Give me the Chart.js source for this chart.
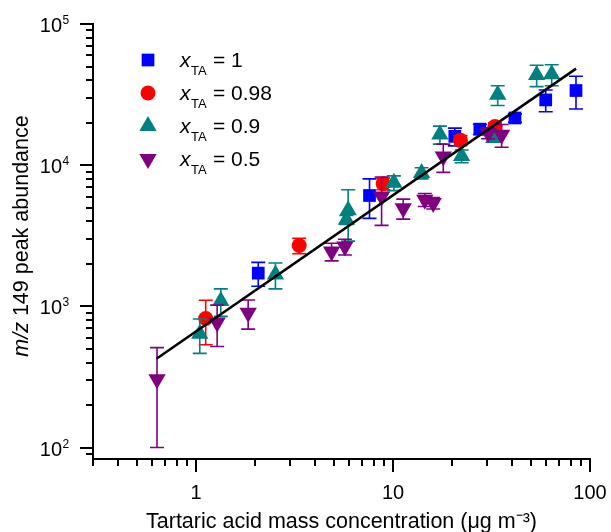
<!DOCTYPE html>
<html><head><meta charset="utf-8">
<script src="https://cdn.jsdelivr.net/npm/chart.js@4"></script>
<style>html,body{margin:0;padding:0;background:#fff}#wrap{width:611px;height:532px}</style>
</head><body><div id="wrap"><canvas id="c" width="611" height="532"></canvas></div>
<script>
const FONT = '"Liberation Sans", Arial, sans-serif';
// x_TA = 1
const ta1X = [2.07, 7.6, 20.6, 27.6, 41.6, 59.6, 84.9];
const ta1Y = [1720, 6100, 16000, 18000, 21600, 29000, 33800];
const ta1Err = [330, 1900, 2300, 1500, 1500, 5100, 8800];
// x_TA = 0.98
const ta098X = [1.12, 3.34, 8.92, 22.0, 32.9];
const ta098Y = [820, 2700, 7400, 15000, 18800];
const ta098Err = [285, 340, 700, 1200, 1200];
// x_TA = 0.9
const ta09X = [1.045, 1.336, 2.53, 5.8, 5.92, 10.1, 13.97, 17.3, 22.3, 32.5, 34.0, 53.6, 63.9];
const ta09Y = [640, 1090, 1680, 4100, 4800, 7500, 8800, 16500, 11600, 15600, 31500, 43500, 44000];
const ta09Err = [175, 240, 350, 300, 1900, 900, 800, 2400, 1200, 1000, 5000, 7500, 7500];
// x_TA = 0.5
const ta05X = [0.634, 1.28, 1.84, 4.88, 5.70, 8.75, 11.27, 14.5, 16.0, 18.0, 30.4, 35.6];
const ta05Y = [305, 770, 900, 2450, 2650, 6000, 4950, 5700, 5400, 11500, 16900, 16400];
const ta05Err = [205, 250, 210, 350, 340, 2250, 800, 600, 500, 2600, 1500, 3000];
// power-law fit, end points
const fitX = [0.63, 85];
const fitY = [426, 48300];

const xTicksLabelled = [1, 10, 100];
const yDecades = [100, 1000, 10000, 100000];
const legendValues = ['1', '0.98', '0.9', '0.5'];

const pts = (xs, ys) => xs.map((x, i) => ({x, y: ys[i]}));
const series = [
  {label: 'x_TA = 1', data: pts(ta1X, ta1Y), errs: ta1Err, color: '#0000ff', style: 'rect', r: 9, rot: 0, order: 3},
  {label: 'x_TA = 0.98', data: pts(ta098X, ta098Y), errs: ta098Err, color: '#ff0000', style: 'circle', r: 7.5, rot: 0, order: 2},
  {label: 'x_TA = 0.9', data: pts(ta09X, ta09Y), errs: ta09Err, color: '#008080', style: 'triangle', r: 10, rot: 0, order: 1},
  {label: 'x_TA = 0.5', data: pts(ta05X, ta05Y), errs: ta05Err, color: '#800080', style: 'triangle', r: 10, rot: 180, order: 0}
];

const datasets = series.map(s => ({
  type: 'scatter', label: s.label, data: s.data, errs: s.errs, order: s.order,
  borderColor: s.color, backgroundColor: s.color, pointStyle: s.style,
  pointRadius: s.r, pointRotation: s.rot, pointBorderWidth: 0, showLine: false
}));
datasets.push({type: 'line', label: 'fit', data: pts(fitX, fitY), order: -1,
  borderColor: '#000', borderWidth: 2.5, pointRadius: 0, fill: false, tension: 0});

const errorBars = {
  id: 'errorBars',
  beforeDatasetDraw(chart, args) {
    const ds = chart.data.datasets[args.index];
    if (!ds.errs) return;
    const xs = chart.scales.x, ys = chart.scales.y, ctx = chart.ctx;
    ctx.save(); ctx.strokeStyle = ds.borderColor; ctx.lineWidth = 1.6;
    ds.data.forEach((p, i) => {
      const e = ds.errs[i];
      const px = xs.getPixelForValue(p.x);
      const t = ys.getPixelForValue(p.y + e), b = ys.getPixelForValue(Math.max(p.y - e, 1));
      ctx.beginPath();
      ctx.moveTo(px, t); ctx.lineTo(px, b);
      ctx.moveTo(px - 7, t); ctx.lineTo(px + 7, t);
      ctx.moveTo(px - 7, b); ctx.lineTo(px + 7, b);
      ctx.stroke();
    });
    ctx.restore();
  }
};

const mant = v => { const e = Math.floor(Math.log10(v) + 1e-9); const m = v / Math.pow(10, e); return Math.abs(m - Math.round(m)) < 1e-6 ? Math.round(m) : 0; };

const axesDecor = {
  id: 'axesDecor',
  afterDraw(chart) {
    const ctx = chart.ctx, xs = chart.scales.x, ys = chart.scales.y;
    ctx.save();
    ctx.strokeStyle = '#000'; ctx.lineWidth = 2;
    xs.ticks.forEach(t => {
      const m = mant(t.value); if (!m) return;
      const px = Math.round(xs.getPixelForValue(t.value));
      ctx.beginPath(); ctx.moveTo(px, xs.top); ctx.lineTo(px, xs.top + (m === 1 ? 13 : 7)); ctx.stroke();
    });
    ys.ticks.forEach(t => {
      const m = mant(t.value); if (!m) return;
      const py = Math.round(ys.getPixelForValue(t.value));
      ctx.beginPath(); ctx.moveTo(ys.right, py); ctx.lineTo(ys.right - (m === 1 ? 13 : 7), py); ctx.stroke();
    });
    // y tick labels 10^n
    ctx.fillStyle = '#000';
    yDecades.forEach(v => {
      const py = ys.getPixelForValue(v);
      ctx.font = '20px ' + FONT; ctx.textAlign = 'right'; ctx.textBaseline = 'alphabetic';
      ctx.fillText('10', 62, py + 8);
      ctx.font = '12px ' + FONT; ctx.textAlign = 'left';
      ctx.fillText(String(Math.round(Math.log10(v))), 62.5, py);
    });
    // y title
    ctx.translate(28, 236); ctx.rotate(-Math.PI / 2);
    ctx.textAlign = 'left'; ctx.textBaseline = 'alphabetic';
    const a = 'm/z', b = ' 149 peak abundance';
    ctx.font = 'italic 21.5px ' + FONT; const wa = ctx.measureText(a).width;
    ctx.font = '21.5px ' + FONT; const wb = ctx.measureText(b).width;
    const x0 = -(wa + wb) / 2;
    ctx.font = 'italic 21.5px ' + FONT; ctx.fillText(a, x0, 0);
    ctx.font = '21.5px ' + FONT; ctx.fillText(b, x0 + wa, 0);
    ctx.restore();
    // legend
    ctx.save();
    series.forEach((s, i) => {
      const cy = 60 + i * 33;
      ctx.fillStyle = s.color; ctx.strokeStyle = s.color; ctx.lineWidth = 0;
      Chart.helpers.drawPoint(ctx, {pointStyle: s.style, radius: s.r, rotation: s.rot, borderWidth: 0}, 148, cy);
      ctx.fillStyle = '#000'; ctx.textAlign = 'left'; ctx.textBaseline = 'alphabetic';
      ctx.font = 'italic 21px ' + FONT; ctx.fillText('x', 180, cy + 7);
      ctx.font = '13px ' + FONT; ctx.fillText('TA', 191, cy + 15);
      ctx.font = '21px ' + FONT; ctx.fillText('= ' + legendValues[i], 213, cy + 7);
    });
    ctx.restore();
  }
};

new Chart(document.getElementById('c'), {
  data: {datasets},
  options: {
    responsive: false, animation: false,
    layout: {padding: {top: 24, right: 21, left: 0, bottom: 0}},
    plugins: {legend: {display: false}, tooltip: {enabled: false}},
    scales: {
      x: {
        type: 'logarithmic', position: 'bottom', min: 0.3, max: 100,
        afterFit: s => { s.height = 73; s.paddingLeft = 0; s.paddingRight = 0; },
        grid: {display: true, drawOnChartArea: false, drawTicks: false, color: 'rgba(0,0,0,0)'},
        border: {display: true, color: '#000', width: 2},
        ticks: {autoSkip: false, maxRotation: 0, padding: 22, color: '#000', font: {family: FONT, size: 20},
          callback: v => xTicksLabelled.includes(v) ? String(v) : ''},
        title: {display: true, text: 'Tartaric acid mass concentration (μg m⁻³)', color: '#000',
          font: {family: FONT, size: 21.5, lineHeight: 0.9}, padding: 0}
      },
      y: {
        type: 'logarithmic', position: 'left', min: 83, max: 100000,
        afterFit: s => { s.width = 93; s.paddingTop = 0; s.paddingBottom = 0; },
        grid: {display: true, drawOnChartArea: false, drawTicks: false, color: 'rgba(0,0,0,0)'},
        border: {display: true, color: '#000', width: 2},
        ticks: {display: false, autoSkip: false}
      }
    }
  },
  plugins: [errorBars, axesDecor]
});
</script>
</body></html>
